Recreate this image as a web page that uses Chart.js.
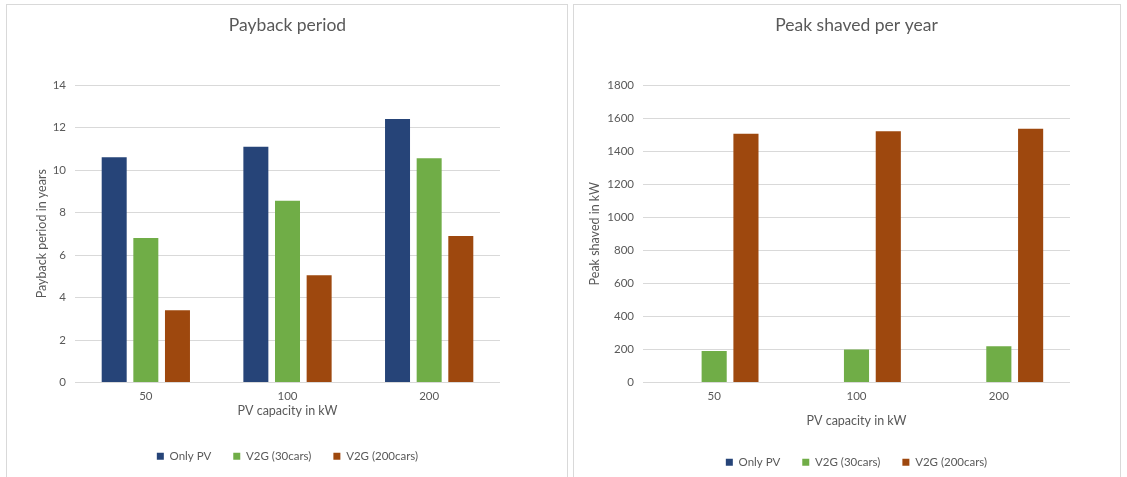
<!DOCTYPE html>
<html>
<head>
<meta charset="utf-8">
<script src="https://cdn.jsdelivr.net/npm/chart.js@4.4.1/dist/chart.umd.min.js"></script>
<style>
  body { margin: 0; background: #fff; width: 1127px; height: 477px; overflow: hidden; }
  .panel { position: absolute; top: 4px; height: 478px; border: 1px solid #d9d9d9; background: #fff; }
  #leftPanel { left: 6px; width: 560px; }
  #rightPanel { left: 573px; width: 546px; }
</style>
</head>
<body>
<div class="panel" id="leftPanel"><canvas id="paybackChart"></canvas></div>
<div class="panel" id="rightPanel"><canvas id="peakChart"></canvas></div>
<script>
// Data
const categories = ['50', '100', '200'];
const seriesNames = ['Only PV', 'V2G (30cars)', 'V2G (200cars)'];
const seriesColors = ['#264478', '#70AD47', '#9E480E'];

const paybackOnlyPV = [10.6, 11.1, 12.4];
const paybackV2G30 = [6.8, 8.55, 10.55];
const paybackV2G200 = [3.4, 5.05, 6.9];

const peakOnlyPV = [0, 0, 0];
const peakV2G30 = [190, 200, 220];
const peakV2G200 = [1505, 1520, 1535];

const paybackTicks = [0, 2, 4, 6, 8, 10, 12, 14];
const peakTicks = [0, 200, 400, 600, 800, 1000, 1200, 1400, 1600, 1800];

const fontFamily = 'Lato, "Open Sans", sans-serif';
const textColor = '#595959';

// Excel centres the title and legend on the plot area, not on the whole chart
const centerOnPlot = {
    id: 'centerOnPlot',
    afterLayout(chart) {
        const area = chart.chartArea;
        [chart.titleBlock, chart.legend].forEach(box => {
            if (box) {
                box.left = area.left;
                box.right = area.right;
            }
        });
    }
};

// Build one clustered bar chart
function createChart(canvasId, titleText, yTitle, seriesData, ticks, opts) {
    const ctx = document.getElementById(canvasId).getContext('2d');
    return new Chart(ctx, {
        type: 'bar',
        data: {
            labels: categories,
            datasets: seriesData.map((values, i) => ({
                label: seriesNames[i],
                data: values,
                backgroundColor: seriesColors[i],
                borderWidth: 0,
                categoryPercentage: 0.67,
                barPercentage: 0.79
            }))
        },
        options: {
            responsive: true,
            maintainAspectRatio: false,
            animation: false,
            layout: { padding: { left: opts.padLeft, right: opts.padRight, top: 0, bottom: opts.padBottom } },
            plugins: {
                title: {
                    display: true,
                    text: titleText,
                    color: textColor,
                    font: { family: fontFamily, size: 17.5, weight: 'normal' },
                    padding: { top: 10, bottom: opts.titleBottom }
                },
                legend: {
                    position: 'bottom',
                    labels: {
                        color: textColor,
                        font: { family: fontFamily, size: 11.5 },
                        boxWidth: 7,
                        boxHeight: 7,
                        padding: 22
                    }
                },
                tooltip: { enabled: false }
            },
            scales: {
                x: {
                    grid: { display: false },
                    border: { display: false },
                    ticks: { color: textColor, font: { family: fontFamily, size: 11.5 }, padding: -1 },
                    title: {
                        display: true,
                        text: 'PV capacity in kW',
                        color: textColor,
                        font: { family: fontFamily, size: 12.5 },
                        padding: { top: 0, bottom: opts.xTitleBottom }
                    },
                    afterFit: scale => { scale.height = opts.xHeight; }
                },
                y: {
                    min: ticks[0],
                    max: ticks[ticks.length - 1],
                    afterBuildTicks: scale => { scale.ticks = ticks.map(v => ({ value: v })); },
                    grid: { color: '#d9d9d9', drawTicks: false },
                    border: { display: false },
                    ticks: {
                        color: textColor,
                        font: { family: fontFamily, size: 11.5 },
                        padding: 9,
                        callback: value => String(value)
                    },
                    title: {
                        display: true,
                        text: yTitle,
                        color: textColor,
                        font: { family: fontFamily, size: 12.5 },
                        padding: { top: 0, bottom: 0 }
                    },
                    afterFit: scale => { scale.width = opts.yWidth; }
                }
            }
        },
        plugins: [centerOnPlot]
    });
}

createChart('paybackChart', 'Payback period', 'Payback period in years',
    [paybackOnlyPV, paybackV2G30, paybackV2G200], paybackTicks,
    { padLeft: 27, yWidth: 41, padRight: 67, titleBottom: 49, xHeight: 46, xTitleBottom: 10, padBottom: 11 });

createChart('peakChart', 'Peak shaved per year', 'Peak shaved in kW',
    [peakOnlyPV, peakV2G30, peakV2G200], peakTicks,
    { padLeft: 13, yWidth: 56, padRight: 50, titleBottom: 49, xHeight: 52, xTitleBottom: 6, padBottom: 5 });
</script>
</body>
</html>
